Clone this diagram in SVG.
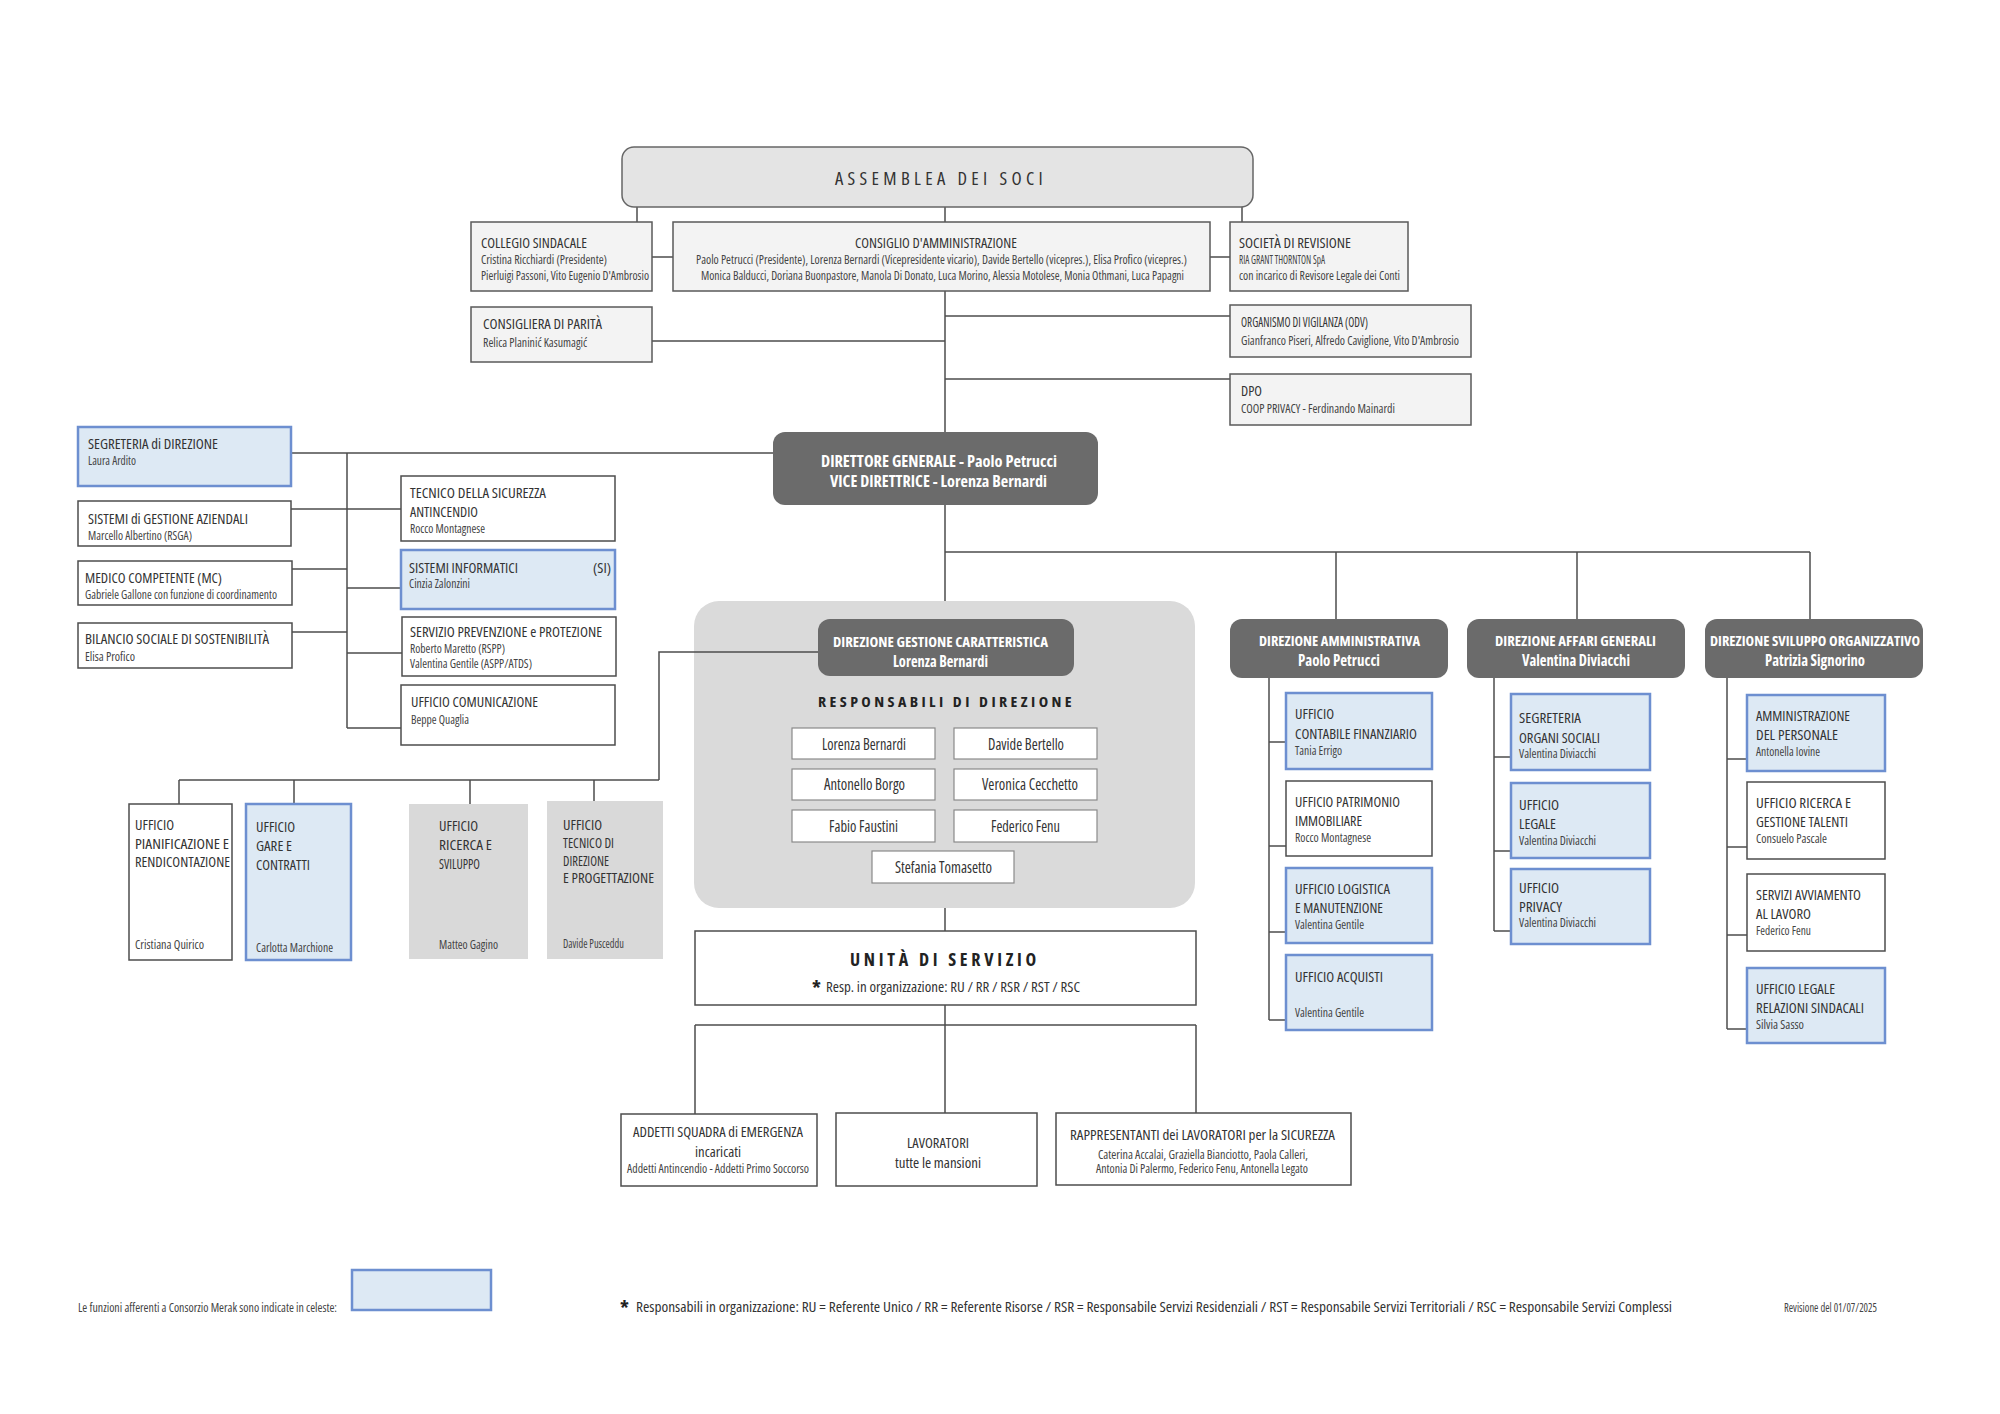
<svg xmlns="http://www.w3.org/2000/svg" width="2000" height="1414" viewBox="0 0 2000 1414">
<style>
.c{fill:none;stroke:#4d4d4d;stroke-width:1.5}
.bw{fill:#fff;stroke:#4d4d4d;stroke-width:1.5}
.bg{fill:#f3f3f3;stroke:#5a5a5a;stroke-width:1.5}
.bb{fill:#dde9f4;stroke:#6d8fd0;stroke-width:2.5}
.bgr{fill:#d9d9d9}
.bd{fill:#6b6b6b}
.bn{fill:#fff;stroke:#8a8a8a;stroke-width:1.2}
text{font-family:"Open Sans","Roboto","Liberation Sans",sans-serif;font-stretch:condensed;fill:#333}
.h{font-size:14.5px}
.m{font-size:14.5px}
.s{font-size:12.5px;fill:#444}
.xs{font-size:12px;fill:#444}
.wb{fill:#fff;font-weight:bold;font-size:14px}
.wn{fill:#fff;font-weight:bold;font-size:15.5px}
.sp{font-weight:bold;fill:#222}
</style>
<rect width="2000" height="1414" fill="#fff"/>

<g id="dgc-container"><rect x="694" y="601" width="501" height="307" rx="25" fill="#dadada"/></g>

<g id="connectors" class="c">
<path d="M637 207V222M945 207V222M1242 207V222"/>
<path d="M652 257H673M1210 257H1230"/>
<path d="M945 291V432"/>
<path d="M945 316H1230M652 341H945M945 379H1230"/>
<path d="M773 453H291M347 453V728"/>
<path d="M291 509H401M292 569H347M292 632H347M347 588H401M347 653H402M347 728H401"/>
<path d="M945 505V601M945 552H1810M1336 552V619M1577 552V619M1810 552V619"/>
<path d="M818 652H659V780M179 780H659M179 780V804M294 780V804M470 780V804M594 780V801"/>
<path d="M945 908V931M945 1005V1113M695 1025H1196M695 1025V1114M1196 1025V1113"/>
<path d="M1269 678V1020M1269 742H1286M1269 846H1286M1269 932H1286M1269 1020H1286"/>
<path d="M1494 678V931M1494 757H1511M1494 851H1511M1494 931H1511"/>
<path d="M1727 678V1029M1727 759H1747M1727 847H1747M1727 935H1747M1727 1029H1747"/>
</g>

<g id="assemblea"><rect x="622" y="147" width="631" height="60" rx="12" fill="#e4e4e4" stroke="#666" stroke-width="1.5"/>
<text x="835" y="185" font-size="18" letter-spacing="4.2" textLength="212" lengthAdjust="spacingAndGlyphs" fill="#222">ASSEMBLEA DEI SOCI</text></g>

<g id="collegio"><rect class="bg" x="471" y="222" width="181" height="69"/>
<text class="m" x="481" y="248" textLength="106" lengthAdjust="spacingAndGlyphs">COLLEGIO SINDACALE</text>
<text class="xs" x="481" y="264" textLength="126" lengthAdjust="spacingAndGlyphs">Cristina Ricchiardi (Presidente)</text>
<text class="xs" x="481" y="280" textLength="168" lengthAdjust="spacingAndGlyphs">Pierluigi Passoni, Vito Eugenio D'Ambrosio</text></g>

<g id="consiglio"><rect class="bg" x="673" y="222" width="537" height="69"/>
<text class="m" x="855" y="248" textLength="162" lengthAdjust="spacingAndGlyphs">CONSIGLIO D'AMMINISTRAZIONE</text>
<text class="xs" x="696" y="264" textLength="491" lengthAdjust="spacingAndGlyphs">Paolo Petrucci (Presidente), Lorenza Bernardi (Vicepresidente vicario), Davide Bertello (vicepres.), Elisa Profico (vicepres.)</text>
<text class="xs" x="701" y="280" textLength="483" lengthAdjust="spacingAndGlyphs">Monica Balducci, Doriana Buonpastore, Manola Di Donato, Luca Morino, Alessia Motolese, Monia Othmani, Luca Papagni</text></g>

<g id="societa"><rect class="bg" x="1230" y="222" width="178" height="69"/>
<text class="m" x="1239" y="248" textLength="112" lengthAdjust="spacingAndGlyphs">SOCIETÀ DI REVISIONE</text>
<text class="xs" x="1239" y="264" textLength="86" lengthAdjust="spacingAndGlyphs">RIA GRANT THORNTON SpA</text>
<text class="xs" x="1239" y="280" textLength="161" lengthAdjust="spacingAndGlyphs">con incarico di Revisore Legale dei Conti</text></g>

<g id="consigliera"><rect class="bg" x="471" y="307" width="181" height="55"/>
<text class="m" x="483" y="329" textLength="119" lengthAdjust="spacingAndGlyphs">CONSIGLIERA DI PARITÀ</text>
<text class="xs" x="483" y="347" textLength="104" lengthAdjust="spacingAndGlyphs">Relica Planinić Kasumagić</text></g>

<g id="odv"><rect class="bg" x="1230" y="305" width="241" height="52"/>
<text class="m" x="1241" y="327" textLength="127" lengthAdjust="spacingAndGlyphs">ORGANISMO DI VIGILANZA (ODV)</text>
<text class="xs" x="1241" y="345" textLength="218" lengthAdjust="spacingAndGlyphs">Gianfranco Piseri, Alfredo Caviglione, Vito D'Ambrosio</text></g>

<g id="dpo"><rect class="bg" x="1230" y="374" width="241" height="51"/>
<text class="m" x="1241" y="396" textLength="21" lengthAdjust="spacingAndGlyphs">DPO</text>
<text class="xs" x="1241" y="413" textLength="154" lengthAdjust="spacingAndGlyphs">COOP PRIVACY - Ferdinando Mainardi</text></g>

<g id="dg"><rect class="bd" x="773" y="432" width="325" height="73" rx="12"/>
<text class="wn" x="821" y="467" textLength="236" lengthAdjust="spacingAndGlyphs">DIRETTORE GENERALE - Paolo Petrucci</text>
<text class="wn" x="830" y="487" textLength="217" lengthAdjust="spacingAndGlyphs">VICE DIRETTRICE - Lorenza Bernardi</text></g>

<g id="segreteria-direzione"><rect class="bb" x="78" y="427" width="213" height="59"/>
<text class="h" x="88" y="449" textLength="130" lengthAdjust="spacingAndGlyphs">SEGRETERIA di DIREZIONE</text>
<text class="s" x="88" y="465" textLength="48" lengthAdjust="spacingAndGlyphs">Laura Ardito</text></g>

<g id="sistemi-gestione"><rect class="bw" x="78" y="501" width="213" height="45"/>
<text class="h" x="88" y="524" textLength="160" lengthAdjust="spacingAndGlyphs">SISTEMI di GESTIONE AZIENDALI</text>
<text class="s" x="88" y="540" textLength="104" lengthAdjust="spacingAndGlyphs">Marcello Albertino (RSGA)</text></g>

<g id="medico"><rect class="bw" x="78" y="561" width="214" height="44"/>
<text class="h" x="85" y="583" textLength="137" lengthAdjust="spacingAndGlyphs">MEDICO COMPETENTE (MC)</text>
<text class="s" x="85" y="599" textLength="192" lengthAdjust="spacingAndGlyphs">Gabriele Gallone con funzione di coordinamento</text></g>

<g id="bilancio"><rect class="bw" x="78" y="623" width="214" height="45"/>
<text class="h" x="85" y="644" textLength="184" lengthAdjust="spacingAndGlyphs">BILANCIO SOCIALE DI SOSTENIBILITÀ</text>
<text class="s" x="85" y="661" textLength="50" lengthAdjust="spacingAndGlyphs">Elisa Profico</text></g>

<g id="tecnico-sicurezza"><rect class="bw" x="401" y="476" width="214" height="65"/>
<text class="h" x="410" y="498" textLength="136" lengthAdjust="spacingAndGlyphs">TECNICO DELLA SICUREZZA</text>
<text class="h" x="410" y="517" textLength="68" lengthAdjust="spacingAndGlyphs">ANTINCENDIO</text>
<text class="s" x="410" y="533" textLength="75" lengthAdjust="spacingAndGlyphs">Rocco Montagnese</text></g>

<g id="sistemi-informatici"><rect class="bb" x="401" y="550" width="214" height="59"/>
<text class="h" x="409" y="573" textLength="109" lengthAdjust="spacingAndGlyphs">SISTEMI INFORMATICI</text>
<text class="h" x="593" y="573" textLength="18" lengthAdjust="spacingAndGlyphs">(SI)</text>
<text class="s" x="409" y="588" textLength="61" lengthAdjust="spacingAndGlyphs">Cinzia Zalonzini</text></g>

<g id="servizio-prevenzione"><rect class="bw" x="402" y="617" width="214" height="59"/>
<text class="h" x="410" y="637" textLength="192" lengthAdjust="spacingAndGlyphs">SERVIZIO PREVENZIONE e PROTEZIONE</text>
<text class="s" x="410" y="653" textLength="95" lengthAdjust="spacingAndGlyphs">Roberto Maretto (RSPP)</text>
<text class="s" x="410" y="668" textLength="122" lengthAdjust="spacingAndGlyphs">Valentina Gentile (ASPP/ATDS)</text></g>

<g id="comunicazione"><rect class="bw" x="401" y="685" width="214" height="60"/>
<text class="h" x="411" y="707" textLength="127" lengthAdjust="spacingAndGlyphs">UFFICIO COMUNICAZIONE</text>
<text class="s" x="411" y="724" textLength="58" lengthAdjust="spacingAndGlyphs">Beppe Quaglia</text></g>

<g id="pianificazione"><rect class="bw" x="129" y="804" width="103" height="156"/>
<text class="h" x="135" y="830" textLength="39" lengthAdjust="spacingAndGlyphs">UFFICIO</text>
<text class="h" x="135" y="849" textLength="94" lengthAdjust="spacingAndGlyphs">PIANIFICAZIONE E</text>
<text class="h" x="135" y="867" textLength="95" lengthAdjust="spacingAndGlyphs">RENDICONTAZIONE</text>
<text class="s" x="135" y="949" textLength="69" lengthAdjust="spacingAndGlyphs">Cristiana Quirico</text></g>

<g id="gare"><rect class="bb" x="246" y="804" width="105" height="156"/>
<text class="h" x="256" y="832" textLength="39" lengthAdjust="spacingAndGlyphs">UFFICIO</text>
<text class="h" x="256" y="851" textLength="36" lengthAdjust="spacingAndGlyphs">GARE E</text>
<text class="h" x="256" y="870" textLength="54" lengthAdjust="spacingAndGlyphs">CONTRATTI</text>
<text class="s" x="256" y="952" textLength="77" lengthAdjust="spacingAndGlyphs">Carlotta Marchione</text></g>

<g id="ricerca-sviluppo"><rect class="bgr" x="409" y="804" width="119" height="155"/>
<text class="h" x="439" y="831" textLength="39" lengthAdjust="spacingAndGlyphs">UFFICIO</text>
<text class="h" x="439" y="850" textLength="53" lengthAdjust="spacingAndGlyphs">RICERCA E</text>
<text class="h" x="439" y="869" textLength="41" lengthAdjust="spacingAndGlyphs">SVILUPPO</text>
<text class="s" x="439" y="949" textLength="59" lengthAdjust="spacingAndGlyphs">Matteo Gagino</text></g>

<g id="tecnico-direzione"><rect class="bgr" x="547" y="801" width="116" height="158"/>
<text class="h" x="563" y="830" textLength="39" lengthAdjust="spacingAndGlyphs">UFFICIO</text>
<text class="h" x="563" y="848" textLength="51" lengthAdjust="spacingAndGlyphs">TECNICO DI</text>
<text class="h" x="563" y="866" textLength="46" lengthAdjust="spacingAndGlyphs">DIREZIONE</text>
<text class="h" x="563" y="883" textLength="91" lengthAdjust="spacingAndGlyphs">E PROGETTAZIONE</text>
<text class="s" x="563" y="948" textLength="61" lengthAdjust="spacingAndGlyphs">Davide Pusceddu</text></g>

<g id="dgc"><rect class="bd" x="818" y="619" width="256" height="57" rx="12"/>
<text class="wb" x="833" y="647" textLength="215" lengthAdjust="spacingAndGlyphs">DIREZIONE GESTIONE CARATTERISTICA</text>
<text class="wn" x="893" y="667" textLength="95" lengthAdjust="spacingAndGlyphs">Lorenza Bernardi</text>
<text class="sp" font-size="15" letter-spacing="3.2" x="818" y="707" textLength="257" lengthAdjust="spacingAndGlyphs">RESPONSABILI DI DIREZIONE</text></g>

<g id="resp-bernardi"><rect class="bn" x="792" y="728" width="143" height="31"/><text font-size="15.5" x="822" y="750" textLength="84" lengthAdjust="spacingAndGlyphs">Lorenza Bernardi</text></g>
<g id="resp-bertello"><rect class="bn" x="954" y="728" width="143" height="31"/><text font-size="15.5" x="988" y="750" textLength="76" lengthAdjust="spacingAndGlyphs">Davide Bertello</text></g>
<g id="resp-borgo"><rect class="bn" x="792" y="769" width="143" height="31"/><text font-size="15.5" x="824" y="790" textLength="81" lengthAdjust="spacingAndGlyphs">Antonello Borgo</text></g>
<g id="resp-cecchetto"><rect class="bn" x="954" y="769" width="143" height="31"/><text font-size="15.5" x="982" y="790" textLength="96" lengthAdjust="spacingAndGlyphs">Veronica Cecchetto</text></g>
<g id="resp-faustini"><rect class="bn" x="792" y="810" width="143" height="32"/><text font-size="15.5" x="829" y="832" textLength="69" lengthAdjust="spacingAndGlyphs">Fabio Faustini</text></g>
<g id="resp-fenu"><rect class="bn" x="954" y="810" width="143" height="32"/><text font-size="15.5" x="991" y="832" textLength="69" lengthAdjust="spacingAndGlyphs">Federico Fenu</text></g>
<g id="resp-tomasetto"><rect class="bn" x="872" y="851" width="142" height="32"/><text font-size="15.5" x="895" y="873" textLength="97" lengthAdjust="spacingAndGlyphs">Stefania Tomasetto</text></g>

<g id="unita-servizio"><rect class="bw" x="695" y="931" width="501" height="74"/>
<text class="sp" font-size="17" letter-spacing="3.5" x="850" y="966" textLength="190" lengthAdjust="spacingAndGlyphs">UNITÀ DI SERVIZIO</text>
<text class="sp" font-size="20" x="812" y="995">*</text>
<text font-size="15" x="826" y="992" textLength="254" lengthAdjust="spacingAndGlyphs">Resp. in organizzazione: RU / RR / RSR / RST / RSC</text></g>

<g id="addetti"><rect class="bw" x="621" y="1114" width="196" height="72"/>
<text class="m" x="633" y="1137" textLength="170" lengthAdjust="spacingAndGlyphs">ADDETTI SQUADRA di EMERGENZA</text>
<text class="m" x="695" y="1157" textLength="46" lengthAdjust="spacingAndGlyphs">incaricati</text>
<text class="xs" x="627" y="1173" textLength="182" lengthAdjust="spacingAndGlyphs">Addetti Antincendio - Addetti Primo Soccorso</text></g>

<g id="lavoratori"><rect class="bw" x="836" y="1113" width="201" height="73"/>
<text class="m" x="907" y="1148" textLength="62" lengthAdjust="spacingAndGlyphs">LAVORATORI</text>
<text class="m" x="895" y="1168" textLength="86" lengthAdjust="spacingAndGlyphs">tutte le mansioni</text></g>

<g id="rappresentanti"><rect class="bw" x="1056" y="1113" width="295" height="72"/>
<text class="m" x="1070" y="1140" textLength="265" lengthAdjust="spacingAndGlyphs">RAPPRESENTANTI dei LAVORATORI per la SICUREZZA</text>
<text class="xs" x="1098" y="1159" textLength="210" lengthAdjust="spacingAndGlyphs">Caterina Accalai, Graziella Bianciotto, Paola Calleri,</text>
<text class="xs" x="1096" y="1173" textLength="212" lengthAdjust="spacingAndGlyphs">Antonia Di Palermo, Federico Fenu, Antonella Legato</text></g>

<g id="dir-amministrativa"><rect class="bd" x="1230" y="619" width="218" height="59" rx="12"/>
<text class="wb" x="1259" y="646" textLength="161" lengthAdjust="spacingAndGlyphs">DIREZIONE AMMINISTRATIVA</text>
<text class="wn" x="1298" y="666" textLength="82" lengthAdjust="spacingAndGlyphs">Paolo Petrucci</text></g>

<g id="dir-affari-generali"><rect class="bd" x="1467" y="619" width="218" height="59" rx="12"/>
<text class="wb" x="1495" y="646" textLength="161" lengthAdjust="spacingAndGlyphs">DIREZIONE AFFARI GENERALI</text>
<text class="wn" x="1522" y="666" textLength="108" lengthAdjust="spacingAndGlyphs">Valentina Diviacchi</text></g>

<g id="dir-sviluppo"><rect class="bd" x="1705" y="619" width="218" height="59" rx="12"/>
<text class="wb" x="1710" y="646" textLength="210" lengthAdjust="spacingAndGlyphs">DIREZIONE SVILUPPO ORGANIZZATIVO</text>
<text class="wn" x="1765" y="666" textLength="100" lengthAdjust="spacingAndGlyphs">Patrizia Signorino</text></g>

<g id="contabile"><rect class="bb" x="1286" y="693" width="146" height="76"/>
<text class="h" x="1295" y="719" textLength="39" lengthAdjust="spacingAndGlyphs">UFFICIO</text>
<text class="h" x="1295" y="739" textLength="122" lengthAdjust="spacingAndGlyphs">CONTABILE FINANZIARIO</text>
<text class="s" x="1295" y="755" textLength="47" lengthAdjust="spacingAndGlyphs">Tania Errigo</text></g>

<g id="patrimonio"><rect class="bw" x="1286" y="781" width="146" height="75"/>
<text class="h" x="1295" y="807" textLength="105" lengthAdjust="spacingAndGlyphs">UFFICIO PATRIMONIO</text>
<text class="h" x="1295" y="826" textLength="67" lengthAdjust="spacingAndGlyphs">IMMOBILIARE</text>
<text class="s" x="1295" y="842" textLength="76" lengthAdjust="spacingAndGlyphs">Rocco Montagnese</text></g>

<g id="logistica"><rect class="bb" x="1286" y="868" width="146" height="75"/>
<text class="h" x="1295" y="894" textLength="95" lengthAdjust="spacingAndGlyphs">UFFICIO LOGISTICA</text>
<text class="h" x="1295" y="913" textLength="88" lengthAdjust="spacingAndGlyphs">E MANUTENZIONE</text>
<text class="s" x="1295" y="929" textLength="69" lengthAdjust="spacingAndGlyphs">Valentina Gentile</text></g>

<g id="acquisti"><rect class="bb" x="1286" y="955" width="146" height="75"/>
<text class="h" x="1295" y="982" textLength="88" lengthAdjust="spacingAndGlyphs">UFFICIO ACQUISTI</text>
<text class="s" x="1295" y="1017" textLength="69" lengthAdjust="spacingAndGlyphs">Valentina Gentile</text></g>

<g id="segreteria-organi"><rect class="bb" x="1511" y="694" width="139" height="76"/>
<text class="h" x="1519" y="723" textLength="62" lengthAdjust="spacingAndGlyphs">SEGRETERIA</text>
<text class="h" x="1519" y="743" textLength="81" lengthAdjust="spacingAndGlyphs">ORGANI SOCIALI</text>
<text class="s" x="1519" y="758" textLength="77" lengthAdjust="spacingAndGlyphs">Valentina Diviacchi</text></g>

<g id="legale"><rect class="bb" x="1511" y="783" width="139" height="75"/>
<text class="h" x="1519" y="810" textLength="40" lengthAdjust="spacingAndGlyphs">UFFICIO</text>
<text class="h" x="1519" y="829" textLength="37" lengthAdjust="spacingAndGlyphs">LEGALE</text>
<text class="s" x="1519" y="845" textLength="77" lengthAdjust="spacingAndGlyphs">Valentina Diviacchi</text></g>

<g id="privacy"><rect class="bb" x="1511" y="869" width="139" height="75"/>
<text class="h" x="1519" y="893" textLength="40" lengthAdjust="spacingAndGlyphs">UFFICIO</text>
<text class="h" x="1519" y="912" textLength="43" lengthAdjust="spacingAndGlyphs">PRIVACY</text>
<text class="s" x="1519" y="927" textLength="77" lengthAdjust="spacingAndGlyphs">Valentina Diviacchi</text></g>

<g id="amm-personale"><rect class="bb" x="1747" y="695" width="138" height="76"/>
<text class="h" x="1756" y="721" textLength="94" lengthAdjust="spacingAndGlyphs">AMMINISTRAZIONE</text>
<text class="h" x="1756" y="740" textLength="82" lengthAdjust="spacingAndGlyphs">DEL PERSONALE</text>
<text class="s" x="1756" y="756" textLength="64" lengthAdjust="spacingAndGlyphs">Antonella Iovine</text></g>

<g id="ricerca-talenti"><rect class="bw" x="1747" y="782" width="138" height="77"/>
<text class="h" x="1756" y="808" textLength="95" lengthAdjust="spacingAndGlyphs">UFFICIO RICERCA E</text>
<text class="h" x="1756" y="827" textLength="92" lengthAdjust="spacingAndGlyphs">GESTIONE TALENTI</text>
<text class="s" x="1756" y="843" textLength="71" lengthAdjust="spacingAndGlyphs">Consuelo Pascale</text></g>

<g id="avviamento"><rect class="bw" x="1747" y="874" width="138" height="77"/>
<text class="h" x="1756" y="900" textLength="105" lengthAdjust="spacingAndGlyphs">SERVIZI AVVIAMENTO</text>
<text class="h" x="1756" y="919" textLength="55" lengthAdjust="spacingAndGlyphs">AL LAVORO</text>
<text class="s" x="1756" y="935" textLength="55" lengthAdjust="spacingAndGlyphs">Federico Fenu</text></g>

<g id="legale-sindacali"><rect class="bb" x="1747" y="968" width="138" height="75"/>
<text class="h" x="1756" y="994" textLength="79" lengthAdjust="spacingAndGlyphs">UFFICIO LEGALE</text>
<text class="h" x="1756" y="1013" textLength="108" lengthAdjust="spacingAndGlyphs">RELAZIONI SINDACALI</text>
<text class="s" x="1756" y="1029" textLength="48" lengthAdjust="spacingAndGlyphs">Silvia Sasso</text></g>

<g id="footer">
<text class="xs" x="78" y="1312" textLength="259" lengthAdjust="spacingAndGlyphs">Le funzioni afferenti a Consorzio Merak sono indicate in celeste:</text>
<rect class="bb" x="352" y="1270" width="139" height="40"/>
<text class="sp" font-size="20" x="620" y="1315">*</text>
<text font-size="15" x="636" y="1312" textLength="1036" lengthAdjust="spacingAndGlyphs">Responsabili in organizzazione: RU = Referente Unico  /  RR = Referente Risorse  /  RSR = Responsabile Servizi Residenziali  /  RST = Responsabile Servizi Territoriali  /  RSC = Responsabile Servizi Complessi</text>
<text class="xs" x="1784" y="1312" textLength="93" lengthAdjust="spacingAndGlyphs">Revisione del 01/07/2025</text>
</g>
</svg>
